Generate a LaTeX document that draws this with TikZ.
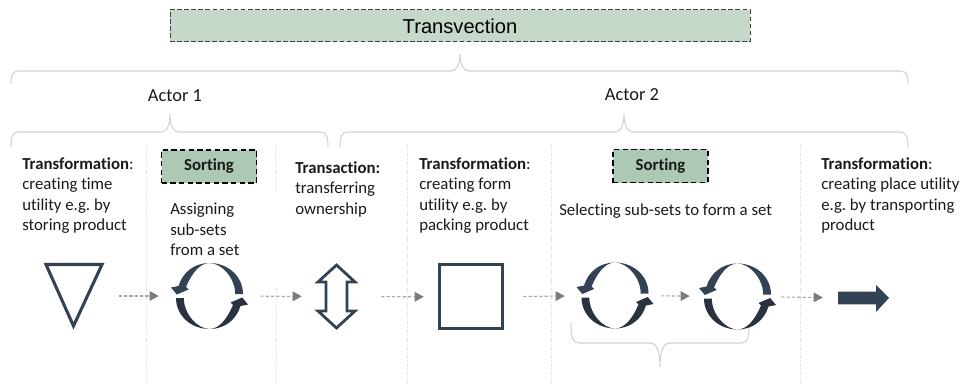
\documentclass[tikz,border=0pt]{standalone}
\usepackage{fontspec}
\setmainfont[Ligatures=NoCommon]{Carlito}
\newfontfamily\arialfont{Liberation Sans}
\usetikzlibrary{arrows.meta}
\definecolor{headcol}{HTML}{C5D9CA}
\definecolor{sortcol}{HTML}{ABC9B5}
\definecolor{navy}{HTML}{344256}
\definecolor{navydark}{HTML}{28333F}
\definecolor{bracecol}{HTML}{D2D2D2}
\definecolor{sepcol}{HTML}{E2E2E2}
\definecolor{linkcol}{HTML}{A8A5A3}
\definecolor{tipcol}{HTML}{7F7A78}
\definecolor{textcol}{HTML}{1A1A1A}
\def\px{0.75pt}
\frenchspacing
\tikzset{
  x=0.75pt, y=-0.75pt,
  bracket/.style={draw=bracecol, line width=0.8pt},
  sepline/.style={draw=sepcol, line width=0.6pt, dash pattern=on 2.5pt off 1.5pt on 0.8pt off 1.5pt},
  mainbox/.style={draw=black!75, fill=headcol, dash pattern=on 3.5pt off 1.8pt, line width=0.75pt, minimum width=580*\px, minimum height=32*\px, inner sep=0pt, font=\arialfont\fontsize{15.1}{17}\selectfont, text=black},
  sortbox/.style={draw=black, fill=sortcol, dash pattern=on 4pt off 2.5pt, line width=1.1pt, minimum width=95*\px, minimum height=33*\px, inner sep=0pt, font=\fontsize{12.6}{14}\selectfont\bfseries, text=textcol},
  bodytext/.style={anchor=north west, align=left, inner sep=0pt, text=textcol, font=\fontsize{12.6}{15.4}\selectfont},
  actortext/.style={inner sep=0pt, text=textcol, font=\fontsize{13.8}{16}\selectfont},
  iconbox/.style={inner sep=0pt, minimum width=#1*\px},
  iconline/.style={draw=navy, line width=2.3pt, miter limit=10},
  link/.style={draw=linkcol, line width=0.8pt, dash pattern=on 2.4pt off 1.6pt, -{Triangle[length=6.8pt,width=7.2pt,fill=tipcol,color=tipcol,sep=0pt]}},
  cyclepic/.pic={
    \foreach \r/\c in {0/navy,180/navydark}{
      \fill[\c,rotate=\r] (33.5,-2) .. controls (33.5,-20) and (18,-33) .. (0,-33)
        .. controls (-16,-33) and (-27,-23) .. (-31,-10)
        -- (-38.5,-8.5) -- (-32.7,-1.5) -- (-21,-6.5) -- (-23.5,-9)
        .. controls (-18,-22) and (-10,-33) .. (0,-33)
        .. controls (12,-33) and (25.7,-18) .. (25.7,-2) -- cycle;
    }
  }
}
\newcommand{\hbrace}[7]{%
  \draw[bracket] (#1,#2) .. controls (#1,{#3+(#2-#3)*0.25}) and ({#1+2},#3) .. ({#1+8},#3)
    -- ({#4-9},#3) .. controls ({#4-3},#3) and (#4,{(#3*0.6+#5*0.4)}) .. (#4,#5)
    .. controls (#4,{(#3*0.6+#5*0.4)}) and ({#4+3},#3) .. ({#4+9},#3)
    -- ({#6-8},#3) .. controls ({#6-2},#3) and (#6,{#3+(#7-#3)*0.25}) .. (#6,#7);}
\begin{document}
\begin{tikzpicture}
\frenchspacing
\useasboundingbox[fill=white] (0,0) rectangle (965,385);
% separators
\foreach \xa/\ya/\yb in {146/145/383, 275/145/192, 276/288/383, 407/145/383, 551/145/383, 800/145/383}
  \draw[sepline] (\xa,\ya) -- (\xa,\yb);
% title and braces
\node[mainbox] (title) at (460,26) {Transvection};
\hbrace{11}{84}{71}{460}{54}{908}{84}
\node[actortext] (actora) at (175,96) {Actor 1};
\node[actortext] (actorb) at (632,95) {Actor 2};
\hbrace{11}{147}{132}{170}{114}{328}{147}
\hbrace{340}{147}{132}{624}{114}{908}{148}
\hbrace{571}{323}{343}{660}{367}{749}{327}
% text
\node[bodytext] (ta) at (22,157) {\textbf{Transformation}:\\creating time\\utility e.g. by\\storing product};
\node[sortbox] (sorta) at (209,166.5) {Sorting};
\node[bodytext] (tb) at (170,203) {Assigning\\sub-sets\\from a set};
\node[bodytext] (tc) at (295,161) {\textbf{Transaction:}\\transferring\\ownership};
\node[bodytext] (td) at (419,157) {\textbf{Transformation}:\\creating form\\utility e.g. by\\packing product};
\node[sortbox] (sortb) at (660.5,166) {Sorting};
\node[bodytext] (te) at (559,204) {Selecting sub-sets to form a set};
\node[bodytext] (tf) at (821,157) {\textbf{Transformation}:\\creating place utility\\e.g. by transporting\\product};
% icons
\node[iconbox=62, minimum height=67*\px] (tri) at (73.5,296) {};
\draw[iconline, line join=miter] (46,264.5) -- (102,264.5) -- (73.5,326) -- cycle;
\node[iconbox=75, minimum height=66*\px] (cyca) at (209.5,296) {};
\pic at (cyca) {cyclepic};
\node[iconbox=43, minimum height=67*\px] (dbl) at (336.5,296.5) {};
\draw[iconline, line width=2.1pt] (336.5,265) -- (355,282) -- (347,282) -- (347,311) -- (355,311) -- (336.5,328) -- (318,311) -- (326,311) -- (326,282) -- (318,282) -- cycle;
\node[iconbox=66, minimum height=67*\px] (sq) at (471,297) {};
\draw[iconline] (439.5,264.5) rectangle (502.5,328.5);
\node[iconbox=76, minimum height=66*\px] (cycb) at (615,295.5) {};
\pic at (cycb) {cyclepic};
\node[iconbox=75, minimum height=66*\px] (cycc) at (737.5,296.5) {};
\pic at (cycc) {cyclepic};
\node[iconbox=51, minimum height=27*\px] (arr) at (863.5,298) {};
\fill[navy] (838,291.7) -- (876,291.7) -- (876,285) -- (889,298) -- (876,312) -- (876,304.3) -- (838,304.3) -- cycle;
% connectors
\draw[link, shorten <=14*\px, shorten >=13*\px] (tri) -- (cyca);
\draw[link, shorten <=13*\px, shorten >=13*\px] (cyca) -- (dbl);
\draw[link, shorten <=23*\px, shorten >=14*\px] (dbl) -- (sq);
\draw[link, shorten <=19*\px, shorten >=12*\px] (sq) -- (cycb);
\draw[link, shorten <=8*\px, shorten >=10*\px] (cycb) -- (cycc);
\draw[link, shorten <=6*\px, shorten >=15*\px] (cycc) -- (arr);
\end{tikzpicture}
\end{document}
